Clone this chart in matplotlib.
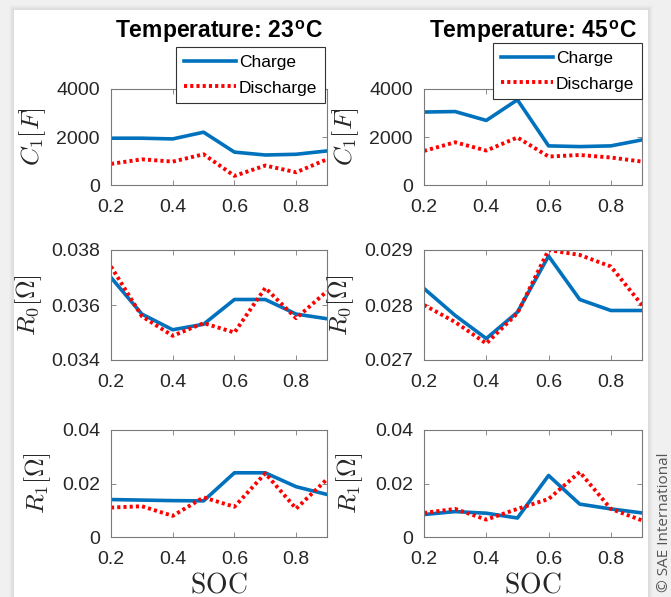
import numpy as np
import matplotlib.pyplot as plt
from matplotlib.patches import Rectangle

plt.rcParams['font.family'] = ['Liberation Sans', 'DejaVu Sans']
plt.rcParams['mathtext.fontset'] = 'cm'

# ---------------- Dados ----------------
soc = [0.2, 0.3, 0.4, 0.5, 0.6, 0.7, 0.8, 0.9]

c1_23_charge = [1950, 1950, 1920, 2200, 1370, 1250, 1280, 1420]
c1_23_discharge = [880, 1070, 975, 1280, 380, 810, 530, 1070]
c1_45_charge = [3040, 3060, 2690, 3550, 1630, 1600, 1630, 1880]
c1_45_discharge = [1420, 1780, 1435, 1980, 1185, 1250, 1145, 975]

r0_23_charge = [0.0370, 0.03567, 0.0351, 0.0353, 0.0362, 0.0362, 0.03567, 0.0355]
r0_23_discharge = [0.0374, 0.03559, 0.03488, 0.03534, 0.0350, 0.03662, 0.03552, 0.0365]
r0_45_charge = [0.0283, 0.02781, 0.02739, 0.02787, 0.02889, 0.0281, 0.0279, 0.0279]
r0_45_discharge = [0.0280, 0.02769, 0.0273, 0.02785, 0.0290, 0.02891, 0.0287, 0.0280]

r1_23_charge = [0.0140, 0.0138, 0.0136, 0.0135, 0.0240, 0.0240, 0.0188, 0.0159]
r1_23_discharge = [0.0110, 0.0115, 0.0079, 0.0148, 0.0113, 0.0238, 0.0106, 0.0216]
r1_45_charge = [0.0084, 0.0095, 0.0089, 0.0071, 0.0230, 0.0123, 0.0105, 0.0090]
r1_45_discharge = [0.0090, 0.0105, 0.0065, 0.0105, 0.0142, 0.0243, 0.0105, 0.0062]

titulos = ['Temperature: 23$^\\mathregular{o}$C', 'Temperature: 45$^\\mathregular{o}$C']
ylabels = [r'$C_1[F]$', r'$R_0[\Omega]$', r'$R_1[\Omega]$']
ylabel_x = [-0.29, -0.31, -0.27]

# (charge, discharge, ylim, yticks, ticklabels) por linha e coluna
paineis = [
    [(c1_23_charge, c1_23_discharge, (0, 4000), [0, 2000, 4000], ['0', '2000', '4000']),
     (c1_45_charge, c1_45_discharge, (0, 4000), [0, 2000, 4000], ['0', '2000', '4000'])],
    [(r0_23_charge, r0_23_discharge, (0.034, 0.038), [0.034, 0.036, 0.038], ['0.034', '0.036', '0.038']),
     (r0_45_charge, r0_45_discharge, (0.027, 0.029), [0.027, 0.028, 0.029], ['0.027', '0.028', '0.029'])],
    [(r1_23_charge, r1_23_discharge, (0, 0.04), [0, 0.02, 0.04], ['0', '0.02', '0.04']),
     (r1_45_charge, r1_45_discharge, (0, 0.04), [0, 0.02, 0.04], ['0', '0.02', '0.04'])],
]

W, H = 671, 597
fig = plt.figure(figsize=(W / 100, H / 100), dpi=100, facecolor='#f0f0f0')

# folha branca com sombra leve
for k, a in enumerate([0.05, 0.05, 0.05, 0.04, 0.03]):
    fig.patches.append(Rectangle(((14 - k - 1) / W, 0), (634 + 2 * (k + 1)) / W, (587 + k + 1) / H,
                                 transform=fig.transFigure, facecolor='#999999', alpha=a,
                                 edgecolor='none', zorder=-3))
fig.patches.append(Rectangle((14 / W, 0), 634 / W, 587 / H, transform=fig.transFigure,
                             facecolor='white', edgecolor='none', zorder=-2))

col_x = [111, 424]
col_w = [216, 218]
rows = [(89, 185), (250, 360), (430, 537)]

cor_azul = '#0072BD'
cor_eixo = '#7a7a7a'

for i, (top, bot) in enumerate(rows):
    for j in range(2):
        ch, dis, ylim, yt, ytl = paineis[i][j]
        ax = fig.add_axes([col_x[j] / W, (H - bot) / H, col_w[j] / W, (bot - top) / H])
        l1, = ax.plot(soc, ch, color=cor_azul, lw=2.6, label='Charge')
        l2, = ax.plot(soc, dis, color='red', lw=2.8, ls=(0, (0.8, 0.8)), label='Discharge')
        ax.set_xlim(0.2, 0.9)
        ax.set_ylim(*ylim)
        ax.set_xticks([0.2, 0.4, 0.6, 0.8])
        ax.set_xticklabels(['0.2', '0.4', '0.6', '0.8'])
        ax.set_yticks(yt)
        ax.set_yticklabels(ytl)
        ax.tick_params(direction='in', top=True, right=True, length=3.5, width=0.6,
                       color=cor_eixo, labelsize=14, labelcolor='#262626')
        ax.tick_params(axis='x', pad=10)
        ax.tick_params(axis='y', pad=8)
        for s in ax.spines.values():
            s.set_color(cor_eixo)
            s.set_linewidth(0.8)
        ax.set_ylabel(ylabels[i], fontsize=18.5, color='#262626')
        ax.yaxis.set_label_coords(ylabel_x[i], 0.5)
        if i == 2:
            ax.set_xlabel(r'$\mathrm{SOC}$', fontsize=20, color='#262626', labelpad=3)
        if i == 0:
            ax.set_title(titulos[j], fontsize=16.5, fontweight='bold', pad=37)
            leg = fig.legend(handles=[l1, l2], loc='upper right',
                             bbox_to_anchor=([325, 642][j] / W, (H - [47, 43][j]) / H),
                             fontsize=12.5, frameon=True, fancybox=False, framealpha=1,
                             edgecolor='#333333', handlelength=3.0, borderpad=0.45,
                             labelspacing=0.6, handletextpad=0.15, borderaxespad=0)
            leg.get_frame().set_linewidth(0.8)

fig.text(664 / W, 5 / H, '\u00a9 SAE International', rotation=90, ha='center', va='bottom',
         fontsize=11, color='#555555', family=['Open Sans', 'DejaVu Sans'])

fig.savefig('out.png', dpi=100, facecolor=fig.get_facecolor())
